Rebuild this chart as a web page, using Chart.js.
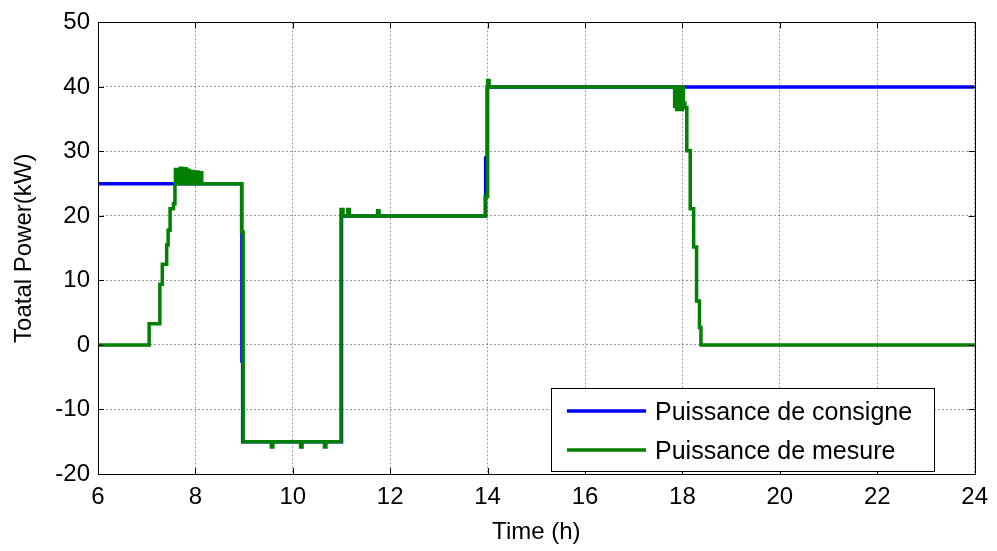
<!DOCTYPE html>
<html>
<head>
<meta charset="utf-8">
<script src="https://cdn.jsdelivr.net/npm/chart.js@4/dist/chart.umd.min.js"></script>
<style>
html,body{margin:0;padding:0;background:#fff;}
canvas{display:block;}
</style>
</head>
<body>
<canvas id="c" width="997" height="551"></canvas>
<script>
// Setpoint power (Puissance de consigne): time (h) and value (kW), step-held
const timeSetpoint  = [6, 8.95, 8.955, 8.97, 11.0, 13.96, 13.99, 24];
const powerSetpoint = [25, 17.5, -2.5, -15, 20, 29, 40, 40];

// Measured power (Puissance de mesure): time (h) and value (kW), step-held
const timeMeasure = [6, 7.05, 7.27, 7.32, 7.41, 7.44, 7.48, 7.55, 7.58,
  7.59, 7.62, 7.69, 7.72, 7.78, 7.81, 7.84, 7.87, 7.94, 7.97, 8.02, 8.05, 8.10, 8.13,
  8.95, 8.98, 9.56, 9.59, 10.16, 10.19, 10.65, 10.68,
  10.99, 11.03, 11.13, 11.16, 11.74, 11.77,
  13.95, 14.0, 14.03,
  17.84, 17.86, 17.88, 17.90, 17.92, 17.95, 17.97, 18.00, 18.02, 18.05,
  18.09, 18.16, 18.23, 18.29, 18.35, 18.38, 24];
const powerMeasure = [0, 3.3, 9.4, 12.5, 15.5, 17.8, 21.1, 21.9, 25,
  27.2, 25, 27.4, 25, 27.3, 25, 27.1, 25, 26.9, 25, 26.8, 25, 26.7, 25,
  17.5, -15, -15.8, -15, -15.8, -15, -15.8, -15,
  21, 20, 21, 20, 20.8, 20,
  23, 41, 40,
  37, 40, 36.5, 40, 37, 40, 36.5, 40, 37.5, 36.8,
  30.1, 21.1, 15.2, 6.8, 2.7, 0, 0];

const xTicks = [6, 8, 10, 12, 14, 16, 18, 20, 22, 24];
const yTicks = [-20, -10, 0, 10, 20, 30, 40, 50];
const seriesLabels = ['Puissance de consigne', 'Puissance de mesure'];
const xTitle = 'Time (h)';
const yTitle = 'Toatal Power(kW)';

const FONT = '"Liberation Sans", Arial, Helvetica, sans-serif';

function pts(t, v) { return t.map((x, i) => ({x: x, y: v[i]})); }

const framePlugin = {
  id: 'frame',
  afterDraw(chart) {
    const ctx = chart.ctx;
    const a = chart.chartArea;
    const xs = chart.scales.x, ys = chart.scales.y;
    ctx.save();
    ctx.strokeStyle = '#000';
    ctx.lineWidth = 1;
    ctx.setLineDash([]);
    ctx.strokeRect(Math.round(a.left) + 0.5, Math.round(a.top) + 0.5,
                   Math.round(a.right - a.left), Math.round(a.bottom - a.top));
    const L = 6;
    ctx.beginPath();
    xTicks.forEach(v => {
      const px = Math.round(xs.getPixelForValue(v)) + 0.5;
      ctx.moveTo(px, a.bottom); ctx.lineTo(px, a.bottom - L);
      ctx.moveTo(px, a.top); ctx.lineTo(px, a.top + L);
    });
    yTicks.forEach(v => {
      const py = Math.round(ys.getPixelForValue(v)) + 0.5;
      ctx.moveTo(a.left, py); ctx.lineTo(a.left + L, py);
      ctx.moveTo(a.right, py); ctx.lineTo(a.right - L, py);
    });
    ctx.stroke();

    // legend box
    const bx = 551, by = 388, bw = 383, bh = 83;
    ctx.fillStyle = '#fff';
    ctx.fillRect(bx, by, bw, bh);
    ctx.strokeRect(bx + 0.5, by + 0.5, bw, bh);
    ctx.font = '25px ' + FONT;
    ctx.textBaseline = 'middle';
    ctx.textAlign = 'left';
    const rows = [411, 450];
    chart.data.datasets.forEach((ds, i) => {
      ctx.strokeStyle = ds.borderColor;
      ctx.lineWidth = 3.5;
      ctx.beginPath();
      ctx.moveTo(567, rows[i]); ctx.lineTo(646, rows[i]);
      ctx.stroke();
      ctx.fillStyle = '#000';
      ctx.fillText(ds.label, 655, rows[i] + 2);
    });
    ctx.restore();
  }
};

const bgPlugin = {
  id: 'bg',
  beforeDraw(chart) {
    const ctx = chart.ctx;
    ctx.save();
    ctx.fillStyle = '#fff';
    ctx.fillRect(0, 0, chart.width, chart.height);
    ctx.restore();
  }
};

new Chart(document.getElementById('c'), {
  type: 'line',
  data: {
    datasets: [
      { label: seriesLabels[0], data: pts(timeSetpoint, powerSetpoint),
        borderColor: '#0000ff', borderWidth: 3.5, stepped: true,
        pointRadius: 0, fill: false, order: 1 },
      { label: seriesLabels[1], data: pts(timeMeasure, powerMeasure),
        borderColor: '#008000', borderWidth: 3.5, stepped: true,
        pointRadius: 0, fill: false, order: 0 }
    ]
  },
  options: {
    responsive: false,
    animation: false,
    devicePixelRatio: 1,
    layout: { padding: { left: 0, right: 21, top: 16, bottom: 0 } },
    plugins: { legend: { display: false }, tooltip: { enabled: false } },
    scales: {
      x: {
        type: 'linear', min: 6, max: 24,
        afterBuildTicks: s => { s.ticks = xTicks.map(v => ({value: v})); },
        afterFit: s => { s.height = 77; },
        grid: { color: 'rgba(0,0,0,0.4)', lineWidth: 1, drawTicks: false },
        border: { display: false, dash: [2, 2] },
        ticks: { color: '#000', font: { family: FONT, size: 24 }, padding: 9, maxRotation: 0 },
        title: { display: true, text: xTitle, color: '#000',
                 font: { family: FONT, size: 24 }, padding: { top: 0, bottom: 4 } }
      },
      y: {
        type: 'linear', min: -20, max: 50,
        afterBuildTicks: s => { s.ticks = yTicks.map(v => ({value: v})); },
        afterFit: s => { s.width = 98; },
        grid: { color: 'rgba(0,0,0,0.4)', lineWidth: 1, drawTicks: false },
        border: { display: false, dash: [2, 2] },
        ticks: { color: '#000', font: { family: FONT, size: 24 }, padding: 8 },
        title: { display: true, text: yTitle, color: '#000',
                 font: { family: FONT, size: 24 }, padding: { top: 10, bottom: 0 } }
      }
    }
  },
  plugins: [bgPlugin, framePlugin]
});
</script>
</body>
</html>
